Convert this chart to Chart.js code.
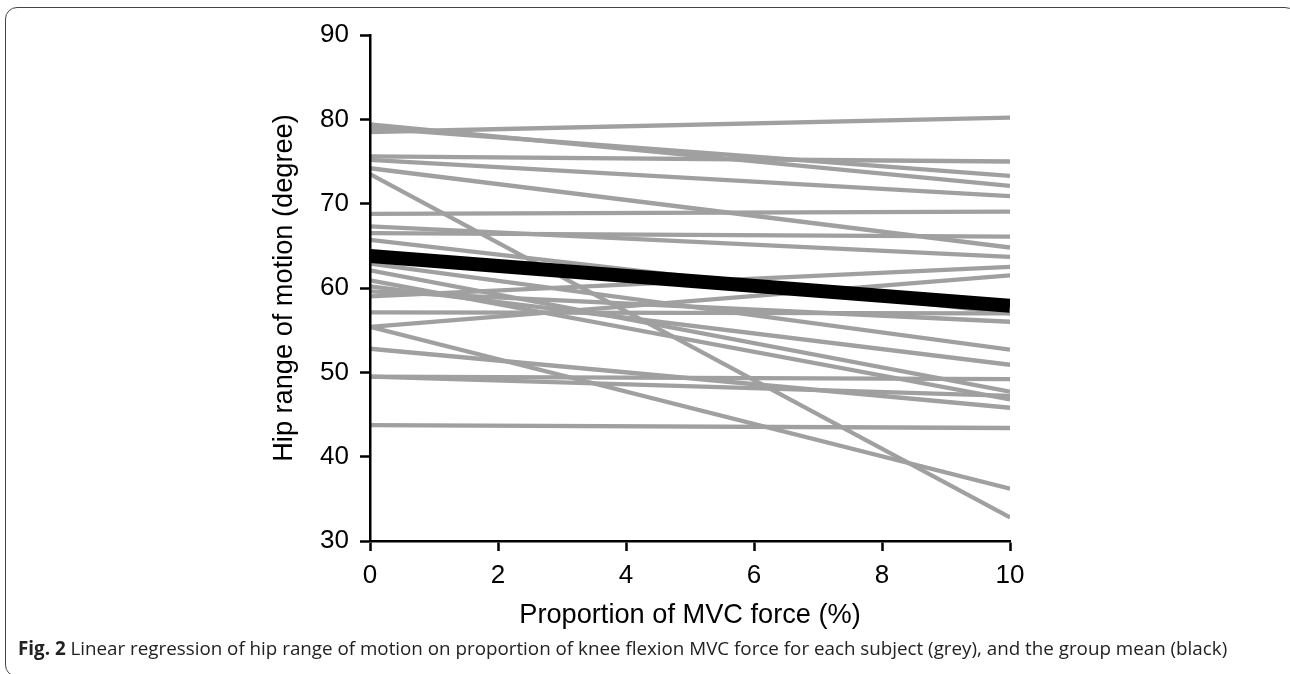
<!DOCTYPE html>
<html>
<head>
<meta charset="utf-8">
<script src="https://cdn.jsdelivr.net/npm/chart.js@4/dist/chart.umd.min.js"></script>
<style>
  html, body { margin: 0; padding: 0; background: #fff; }
  body { width: 1290px; height: 674px; position: relative; overflow: hidden; }
  .frame {
    position: absolute; left: 5px; top: 7px; width: 1292px; height: 670px;
    border: 1.5px solid #444; border-radius: 12px; box-sizing: border-box;
  }
  #wrap { position: absolute; left: 0; top: 0; width: 1290px; height: 640px; }
  .caption {
    position: absolute; left: 18px; top: 635px;
    font-family: "Open Sans", sans-serif; font-size: 18.8px; color: #222;
    white-space: nowrap;
  }
  .caption b { font-weight: 700; }
</style>
</head>
<body>
<div class="frame"></div>
<div id="wrap"><canvas id="regChart"></canvas></div>
<div class="caption"><b>Fig. 2</b> Linear regression of hip range of motion on proportion of knee flexion MVC force for each subject (grey), and the group mean (black)</div>
<script>
  // MVC proportion at the two ends of each regression line
  const xValues = [0, 10];

  // hip range of motion (degree) per subject at 0 % and 10 %
  const startValues = [78.5, 79.4, 79.0, 75.6, 75.2, 74.2, 73.5, 68.8, 66.5, 67.3, 65.7, 59.0,
    55.4, 57.1, 59.6, 62.9, 60.2, 49.5, 62.1, 49.5, 60.9, 52.8, 43.75, 55.4];
  const endValues = [80.2, 72.1, 73.3, 75.0, 70.9, 64.8, 32.8, 69.05, 66.1, 63.7, 57.0, 62.5,
    61.5, 57.0, 56.0, 52.7, 50.9, 49.2, 47.7, 47.2, 46.8, 45.8, 43.4, 36.2];

  // group mean
  const meanValues = [63.8, 57.9];

  const yTicks = [30, 40, 50, 60, 70, 80, 90];
  const xTicks = [0, 2, 4, 6, 8, 10];

  const FONT = "'Liberation Sans', Arial, sans-serif";

  function toPoints(a, b) {
    return [{ x: xValues[0], y: a }, { x: xValues[1], y: b }];
  }

  const datasets = [{
    label: "Mean",
    data: toPoints(meanValues[0], meanValues[1]),
    borderColor: "#000",
    borderWidth: 14,
    borderCapStyle: "butt",
    pointRadius: 0,
  }];
  startValues.forEach((s, i) => {
    datasets.push({
      label: "Subject " + (i + 1),
      data: toPoints(s, endValues[i]),
      borderColor: "#a0a0a0",
      borderWidth: 4.3,
      borderCapStyle: "butt",
      pointRadius: 0,
    });
  });

  const ctx = document.getElementById("regChart").getContext("2d");
  new Chart(ctx, {
    type: "line",
    data: { datasets: datasets },
    options: {
      responsive: true,
      maintainAspectRatio: false,
      animation: false,
      layout: { padding: { left: 264, top: 35, right: 280, bottom: 4 } },
      plugins: { legend: { display: false }, tooltip: { enabled: false } },
      scales: {
        x: {
          type: "linear",
          min: 0,
          max: 10,
          afterBuildTicks: (scale) => { scale.ticks = xTicks.map((v) => ({ value: v })); },
          afterFit: (scale) => { scale.height = 95; },
          grid: { display: true, drawOnChartArea: false, drawTicks: true, tickLength: 10, tickWidth: 2.5, tickColor: "#000" },
          border: { display: true, color: "#000", width: 2.5, z: 1 },
          ticks: { color: "#000", font: { family: FONT, size: 26 }, padding: 9 },
          title: { display: true, text: "Proportion of MVC force (%)", color: "#000", font: { family: FONT, size: 27.2 } },
        },
        y: {
          type: "linear",
          min: 30,
          max: 90,
          afterBuildTicks: (scale) => { scale.ticks = yTicks.map((v) => ({ value: v })); },
          afterFit: (scale) => { scale.width = 106; },
          grid: { display: true, drawOnChartArea: false, drawTicks: true, tickLength: 10, tickWidth: 2.5, tickColor: "#000" },
          border: { display: true, color: "#000", width: 2.5, z: 1 },
          ticks: { color: "#000", font: { family: FONT, size: 26 }, padding: 11 },
          title: { display: true, text: "Hip range of motion (degree)", color: "#000", font: { family: FONT, size: 27.2 } },
        },
      },
    },
  });
</script>
</body>
</html>
